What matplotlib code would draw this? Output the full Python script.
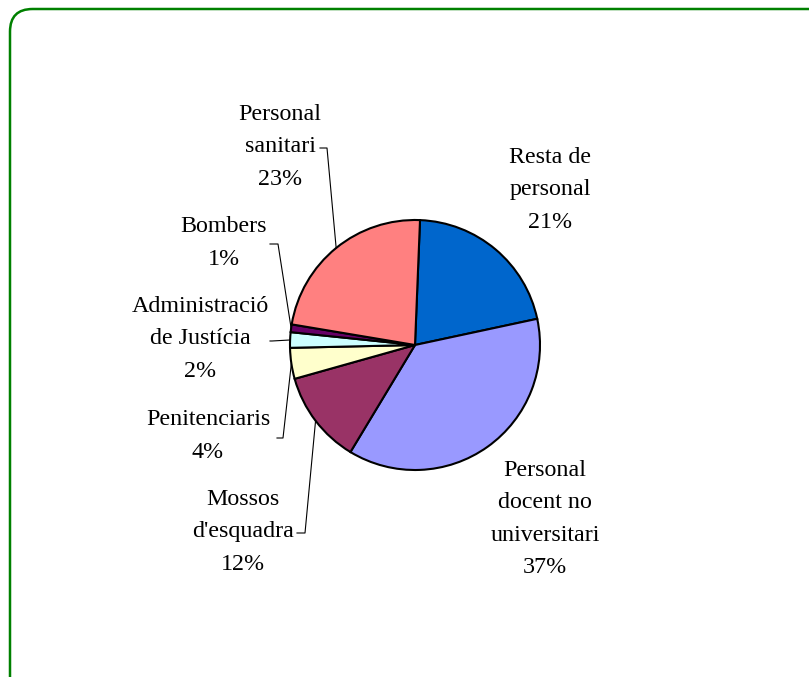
import numpy as np
import matplotlib
matplotlib.use("Agg")
import matplotlib.pyplot as plt
from matplotlib.patches import FancyBboxPatch

# data
labels = ["Resta de\npersonal", "Personal\ndocent no\nuniversitari", "Mossos\nd'esquadra",
          "Penitenciaris", "Administració\nde Justícia", "Bombers", "Personal\nsanitari"]
shares = [21, 37, 12, 4, 2, 1, 23]
colors = ["#0066CC", "#9999FF", "#993366", "#FFFFCC", "#CCFFFF", "#660066", "#FF8080"]

W, H = 809, 677
fig = plt.figure(figsize=(W / 100, H / 100), dpi=100)
ax = fig.add_axes([0, 0, 1, 1])

cx, cy, r = 415, H - 345, 125
wedges, _ = ax.pie(shares, colors=colors, startangle=87.7, counterclock=False,
                   center=(cx, cy), radius=r,
                   wedgeprops=dict(edgecolor="black", linewidth=1.5))
ax.set_xlim(0, W)
ax.set_ylim(0, H)
ax.set_aspect("equal")
ax.axis("off")

# label placement (pixel coords, y from top): text centre, optional elbow for leader
layout = [
    ((550, 190), None),
    ((545, 519), None),
    ((243, 532), ((297, 533), (305, 533))),
    ((208, 436), ((277, 438), (283, 438))),
    ((200, 339), ((270, 341), (272, 341))),
    ((224, 243), ((270, 244), (278, 244))),
    ((280, 147), ((320, 148), (327, 148))),
]

font = dict(family=["Liberation Serif", "DejaVu Serif"], fontsize=17.3)
for w, lab, pct, (pos, elbow) in zip(wedges, labels, shares, layout):
    ax.text(pos[0], H - pos[1], f"{lab}\n{pct}%", ha="center", va="center",
            linespacing=1.72, color="black", **font)
    if elbow:
        mid = np.deg2rad((w.theta1 + w.theta2) / 2)
        ex, ey = cx + r * np.cos(mid), cy + r * np.sin(mid)
        (x0, y0), (x1, y1) = elbow
        ax.plot([x0, x1, ex], [H - y0, H - y1, ey], color="black", lw=0.8)

# rounded green frame (runs off the right and bottom edges)
frame = FancyBboxPatch((10 / W, -0.1), 1.2, (H - 9) / H + 0.1,
                       boxstyle="round,pad=0,rounding_size=0.028",
                       transform=fig.transFigure, fill=False,
                       edgecolor="#008000", linewidth=1.8, mutation_aspect=W / H)
fig.patches.append(frame)

fig.savefig("out.png", dpi=100)
